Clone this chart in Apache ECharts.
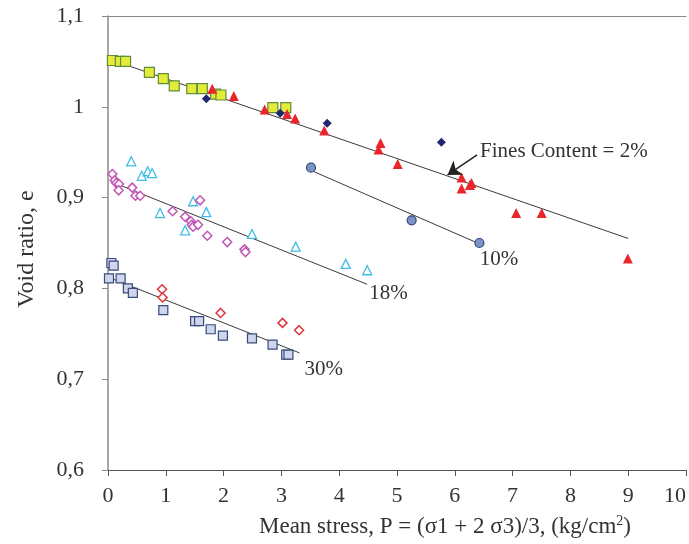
<!DOCTYPE html>
<html>
<head>
<meta charset="utf-8">
<script src="https://cdn.jsdelivr.net/npm/echarts@6/dist/echarts.min.js"></script>
<style>
html,body{margin:0;padding:0;background:#fff;}
#c{width:689px;height:544px;}
</style>
</head>
<body>
<div id="c"></div>
<script>
// ---- data ----
const xTicks = [0,1,2,3,4,5,6,7,8,9,10];
const yTicks = [0.6,0.7,0.8,0.9,1.0,1.1];

const fc2Squares = [[0.076,1.051],[0.213,1.050],[0.304,1.050],[0.716,1.038],[0.957,1.031],[1.146,1.023],[1.450,1.020],[1.632,1.020],[1.863,1.014],[1.954,1.013],[2.852,0.999],[3.076,0.999]];
const fc2Diamonds = [[1.701,1.009],[2.979,0.993],[3.792,0.982],[5.768,0.961]];
const fc2Triangles = [[1.804,1.020],[2.177,1.012],[2.710,0.997],[3.098,0.992],[3.237,0.987],[3.741,0.974],[4.715,0.960],[4.680,0.953],[5.012,0.937],[6.117,0.922],[6.289,0.916],[6.261,0.914],[6.117,0.910],[7.062,0.883],[7.503,0.883],[8.993,0.833]];
const fc10Circles = [[3.512,0.933],[5.253,0.875],[6.426,0.850]];
const fc18Triangles = [[0.402,0.940],[0.584,0.924],[0.687,0.929],[0.763,0.927],[0.900,0.883],[1.335,0.864],[1.473,0.896],[1.701,0.884],[2.491,0.860],[3.247,0.846],[4.113,0.827],[4.485,0.820]];
const fc18Diamonds = [[0.076,0.926],[0.115,0.919],[0.144,0.916],[0.189,0.915],[0.184,0.908],[0.419,0.911],[0.476,0.902],[0.557,0.902],[1.117,0.885],[1.335,0.879],[1.433,0.874],[1.450,0.870],[1.473,0.868],[1.558,0.870],[1.593,0.897],[1.718,0.858],[2.062,0.851],[2.361,0.843],[2.378,0.840]];
const fc30Squares = [[0.058,0.828],[0.098,0.825],[0.017,0.811],[0.218,0.811],[0.344,0.800],[0.430,0.795],[0.957,0.776],[1.507,0.764],[1.576,0.764],[1.777,0.755],[1.988,0.748],[2.491,0.745],[2.847,0.738],[3.082,0.727],[3.122,0.727]];
const fc30Diamonds = [[0.935,0.799],[0.945,0.790],[1.948,0.773],[3.019,0.762],[3.306,0.754]];

const fit2 = [[0,1.053],[9.0,0.855]];
const fit10 = [[3.51,0.930],[6.43,0.849]];
const fit18 = [[0.115,0.916],[4.485,0.8045]];
const fit30 = [[0.017,0.812],[3.311,0.729]];
const arrow2 = [[6.386,0.947],[5.875,0.925]];

const curveLabels = ['Fines Content = 2%','10%','18%','30%'];
const xTitle = 'Mean stress, P = (\u03c31 + 2 \u03c33)/3, (kg/cm';
const yTitle = 'Void ratio, e';

// ---- chart ----
const FONT = '"Liberation Serif", "DejaVu Serif", serif';
const chart = echarts.init(document.getElementById('c'), null, {renderer:'canvas'});

function fitLine(d){
  return {type:'line', data:d, showSymbol:false, symbol:'none', z:1,
    lineStyle:{color:'#3a3a3a', width:1}, silent:true};
}
function scat(d, symbol, size, fill, border, bw){
  return {type:'scatter', data:d, symbol:symbol, symbolSize:size, z:3,
    itemStyle:{color:fill, borderColor:border, borderWidth:bw, opacity:1}};
}

const option = {
  animation:false,
  backgroundColor:'#fff',
  grid:{left:108, top:16, width:582, height:454},
  xAxis:[{type:'value', min:0, max:10, interval:1,
    axisLine:{show:true, lineStyle:{color:'#555', width:1}},
    axisTick:{show:true, length:6, lineStyle:{color:'#555'}},
    splitLine:{show:false},
    axisLabel:{fontFamily:FONT, fontSize:22, color:'#333', margin:15, alignMaxLabel:'right',
      formatter:v=>String(v)}
  },{type:'value', position:'top', min:0, max:10, interval:1,
    axisLine:{show:true, onZero:false, lineStyle:{color:'#8a8a8a', width:1}},
    axisTick:{show:false}, axisLabel:{show:false}, splitLine:{show:false}
  }],
  yAxis:{type:'value', min:0.6, max:1.1, interval:0.1,
    axisLine:{show:true, lineStyle:{color:'#8a8a8a', width:1.5}},
    axisTick:{show:true, length:6, lineStyle:{color:'#8a8a8a'}},
    splitLine:{show:false},
    axisLabel:{fontFamily:FONT, fontSize:22, color:'#333', margin:24,
      formatter:v=>String(Math.round(v*10)/10).replace('.',',')}
  },
  series:[
    fitLine(fit2), fitLine(fit10), fitLine(fit18), fitLine(fit30),
    {type:'lines', coordinateSystem:'cartesian2d', z:4, silent:true,
      data:[{coords:arrow2}], symbol:['none','arrow'], symbolSize:[0,13],
      lineStyle:{color:'#222', width:1.5, opacity:1}},
    scat(fc2Squares,'rect',10,'#e3ec3a','#5f8f3a',1.2),
    scat(fc2Triangles,'triangle',10,'#e8262b','#e8262b',0),
    scat(fc2Diamonds,'diamond',9,'#1e2770','#1e2770',0),
    scat(fc10Circles,'circle',9,'#7895c4','#34477a',1.2),
    scat(fc18Triangles,'triangle',9,'#ffffff','#3fbde8',1.3),
    scat(fc18Diamonds,'diamond',9,'#ffffff','#c255b5',1.5),
    scat(fc30Squares,'rect',9,'#cdd6ea','#3a4a7c',1.2),
    scat(fc30Diamonds,'diamond',9,'#ffffff','#e0343c',1.5)
  ]
};
chart.setOption(option);

const px = p => chart.convertToPixel({gridIndex:0}, p);
const aStart = px(arrow2[0]);
const e10 = px(fit10[1]);
const e18 = px(fit18[1]);
const e30 = px(fit30[1]);
function annot(text, p, dx, dy){
  return {type:'text', x:p[0]+dx, y:p[1]+dy, z:10,
    style:{text:text, fontFamily:FONT, fontSize:21, fill:'#333', textAlign:'left', textVerticalAlign:'middle'}};
}
chart.setOption({
  graphic:[
    annot(curveLabels[0], aStart, 3, -3),
    annot(curveLabels[1], e10, 0, 16),
    annot(curveLabels[2], e18, 2, 9),
    annot(curveLabels[3], e30, 5, 17),
    {type:'text', x:445, y:527, z:10,
      style:{text:'{a|'+xTitle+'}{s|2}{a|)}', textAlign:'center', textVerticalAlign:'middle',
        rich:{a:{fontFamily:FONT, fontSize:23, fill:'#333', color:'#333'},
              s:{fontFamily:FONT, fontSize:14, fill:'#333', color:'#333', verticalAlign:'top', padding:[0,0,12,0]}}}},
    {type:'text', x:27, y:249, rotation:Math.PI/2, z:10,
      style:{text:yTitle, fontFamily:FONT, fontSize:24, fill:'#333', textAlign:'center', textVerticalAlign:'middle'}}
  ]
});
</script>
</body>
</html>
